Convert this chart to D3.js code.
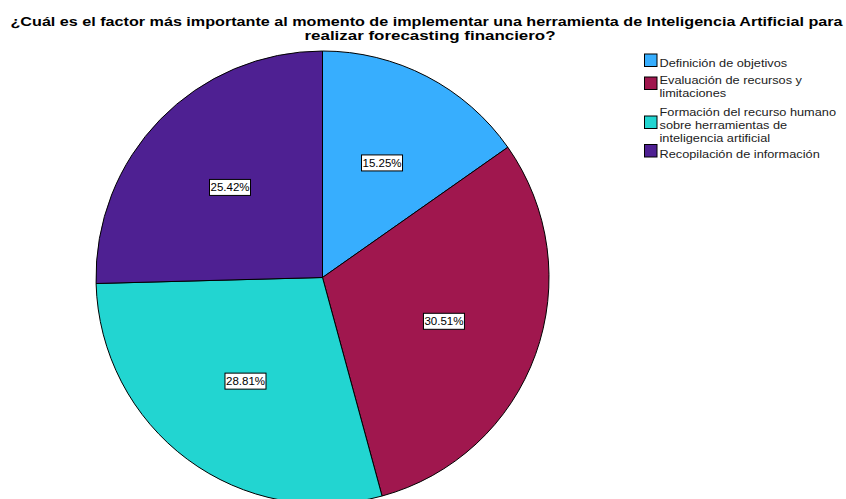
<!DOCTYPE html>
<html>
<head>
<meta charset="utf-8">
<script src="https://cdn.jsdelivr.net/npm/d3@7"></script>
<style>
  body { margin: 0; background: #fff; }
  text { font-family: "Liberation Sans", Arial, sans-serif; }
</style>
</head>
<body>
<div id="chart"></div>
<script>
var categories = [
  'Definición de objetivos',
  'Evaluación de recursos y limitaciones',
  'Formación del recurso humano sobre herramientas de inteligencia artificial',
  'Recopilación de información'
];
var legendLines = [
  ['Definición de objetivos'],
  ['Evaluación de recursos y', 'limitaciones'],
  ['Formación del recurso humano', 'sobre herramientas de', 'inteligencia artificial'],
  ['Recopilación de información']
];
var percents = [15.25, 30.51, 28.81, 25.42];
var colors = ['#37aefe', '#a0174e', '#22d5d1', '#4e2092'];
var titleLines = [
  '¿Cuál es el factor más importante al momento de implementar una herramienta de Inteligencia Artificial para',
  'realizar forecasting financiero?'
];

(function(d3) {
  'use strict';
  var width = 846, height = 499;
  var cx = 322.5, cy = 277.5, radius = 226.5;

  var svg = d3.select('#chart').append('svg')
    .attr('width', width)
    .attr('height', height);

  // title, two lines
  svg.append('text')
    .attr('x', 426.5).attr('y', 25.5)
    .attr('text-anchor', 'middle')
    .attr('font-size', 12).attr('font-weight', 'bold')
    .attr('textLength', 832).attr('lengthAdjust', 'spacingAndGlyphs')
    .text(titleLines[0]);
  svg.append('text')
    .attr('x', 430).attr('y', 39.5)
    .attr('text-anchor', 'middle')
    .attr('font-size', 12).attr('font-weight', 'bold')
    .attr('textLength', 251).attr('lengthAdjust', 'spacingAndGlyphs')
    .text(titleLines[1]);

  var pie = d3.pie().value(function(d) { return d; }).sort(null);
  var arc = d3.arc().innerRadius(0).outerRadius(radius);
  var labelArc = d3.arc().innerRadius(radius * 0.57).outerRadius(radius * 0.57);

  var g = svg.append('g').attr('transform', 'translate(' + cx + ',' + cy + ')');
  var slices = g.selectAll('g.slice').data(pie(percents)).enter()
    .append('g').attr('class', 'slice');

  slices.append('path')
    .attr('d', arc)
    .attr('fill', function(d, i) { return colors[i]; })
    .attr('stroke', '#000').attr('stroke-width', 1);

  var labels = slices.append('g')
    .attr('transform', function(d) { return 'translate(' + labelArc.centroid(d) + ')'; });
  labels.append('rect')
    .attr('x', -20.5).attr('y', -8).attr('width', 41).attr('height', 16)
    .attr('fill', '#fff').attr('stroke', '#000').attr('stroke-width', 1);
  labels.append('text')
    .attr('text-anchor', 'middle').attr('dy', 4)
    .attr('font-size', 11.5)
    .text(function(d) { return d.data.toFixed(2) + '%'; });

  // legend
  var lineH = 13;
  var legend = svg.append('g').attr('transform', 'translate(644,0)');
  var firstBaseline = [67, 83.5, 116, 157.5];
  legendLines.forEach(function(lines, i) {
    var top = firstBaseline[i];
    var n = lines.length;
    var mid = top - 4.5 + (n - 1) * lineH / 2 - 2;
    legend.append('rect')
      .attr('x', 0.5).attr('y', mid - 6.5).attr('width', 12.5).attr('height', 12.5)
      .attr('fill', colors[i]).attr('stroke', '#000').attr('stroke-width', 1);
    lines.forEach(function(t, j) {
      var txt = legend.append('text')
        .attr('x', 15.5).attr('y', top + j * lineH)
        .attr('font-size', 11.2).attr('fill', '#222')
        .text(t);
      // widen a bit, the original font renders wider
      var w = txt.node().getComputedTextLength();
      txt.attr('textLength', w * 1.14).attr('lengthAdjust', 'spacingAndGlyphs');
    });
  });
})(window.d3);
</script>
</body>
</html>
